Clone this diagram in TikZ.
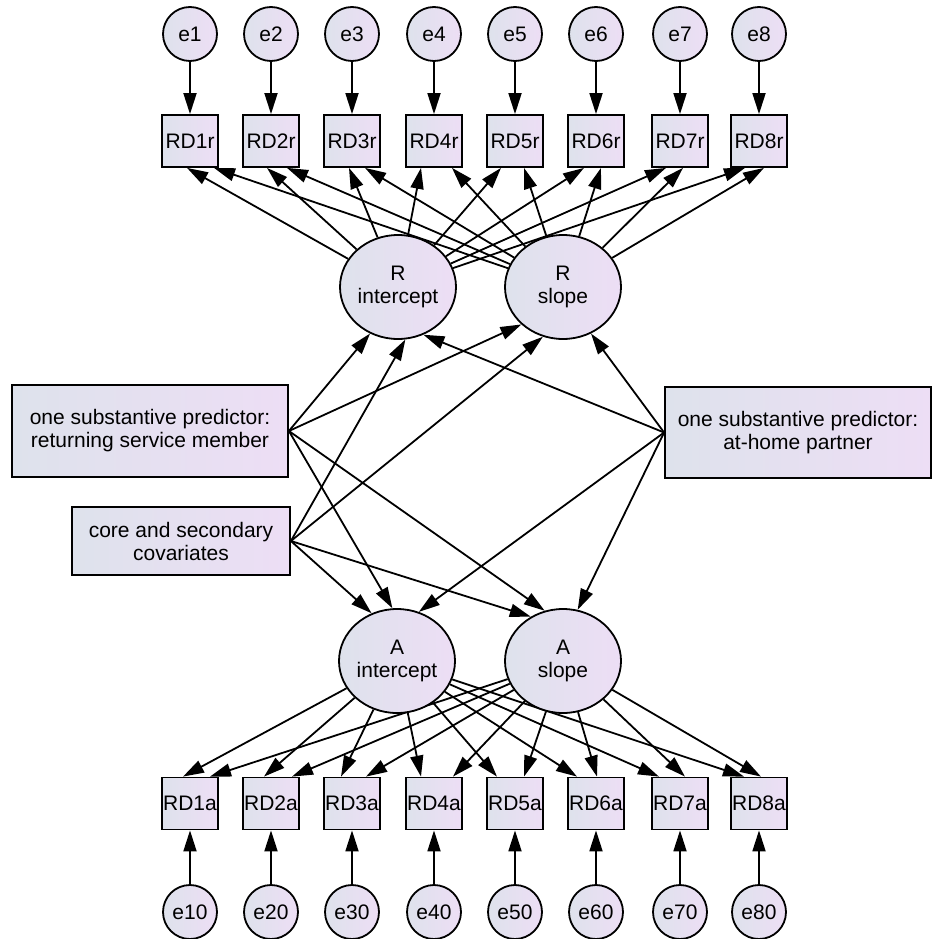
\documentclass[tikz,border=0pt]{standalone}
\usepackage{fontspec}
\setmainfont{Liberation Sans}
\usetikzlibrary{arrows.meta,calc,shapes.geometric}

\definecolor{shadeL}{RGB}{222,226,236}
\definecolor{shadeR}{RGB}{237,222,245}

\pgfdeclarelayer{bg}
\pgfsetlayers{bg,main}

\tikzset{
  base/.style={draw, line width=1.8pt, left color=shadeL, right color=shadeR,
    inner sep=0pt, align=center, font=\fontsize{21}{23}\selectfont},
  obs/.style={base, rectangle, minimum width=56pt, minimum height=52pt},
  errc/.style={base, circle, minimum size=54pt},
  lat/.style={base, ellipse, minimum width=116pt, minimum height=104pt},
  pred/.style={base, rectangle},
  arr/.style={line width=1.8pt, -{Triangle[length=21pt,width=13pt]}}
}

\begin{document}
\begin{tikzpicture}[x=1pt,y=-1pt]
\useasboundingbox (0,0) rectangle (933,939);

% indicators and their error terms
\foreach \i/\x in {1/190,2/271,3/352,4/434,5/515,6/596,7/680,8/759}{
  \node[errc] (er\i) at (\x,34) {e\i};
  \node[obs] (RDr\i) at (\x,141) {RD\i r};
  \node[obs] (RDa\i) at (\x,803.5) {RD\i a};
  \node[errc] (ea\i) at (\x,912) {e\i0};
}

% growth factors
\node[lat] (Rint) at (398,287) {R\\intercept};
\node[lat] (Rslo) at (563,287) {R\\slope};
\node[lat] (Aint) at (397,661) {A\\intercept};
\node[lat] (Aslo) at (563,661) {A\\slope};

% predictors
\node[pred, minimum width=276pt, minimum height=92pt] (ret) at (150,431)
  {one substantive predictor:\\returning service member};
\node[pred, minimum width=218pt, minimum height=68pt] (cov) at (181,541)
  {core and secondary\\covariates};
\node[pred, minimum width=266pt, minimum height=91pt] (home) at (798,432.5)
  {one substantive predictor:\\at-home partner};

\begin{pgfonlayer}{bg}
  \fill[white] (0,0) rectangle (933,939);
  \foreach \i/\ti/\ts/\bi/\bs in {1/-3/24/-7/20, 2/-4/16/-7/21, 3/-3/13/-11/14,
      4/-13/18/-13/19, 5/-14/9/-18/9, 6/-12/5/-19/1, 7/-14/3/-21/5, 8/-14/5/-15/2}{
    \draw[arr] (er\i) -- (RDr\i);
    \draw[arr] (ea\i) -- (RDa\i);
    \draw[arr] (Rint) -- ($(RDr\i.south)+(\ti,0)$);
    \draw[arr] (Rslo) -- ($(RDr\i.south)+(\ts,0)$);
    \draw[arr] (Aint) -- ($(RDa\i.north)+(\bi,0)$);
    \draw[arr] (Aslo) -- ($(RDa\i.north)+(\bs,0)$);
  }
  \draw[arr] (ret.east) -- (Rint.239);
  \draw[arr] (ret.east) -- (Rslo.222);
  \draw[arr] (ret.east) -- (Aint.95);
  \draw[arr] (ret.east) -- (Aslo.110);
  \draw[arr] (cov.east) -- (Rint.278);
  \draw[arr] (cov.east) -- (Rslo.248);
  \draw[arr] (cov.east) -- (Aint.118);
  \draw[arr] (cov.east) -- (Aslo.126);
  \draw[arr] (home.west) -- (Rint.298);
  \draw[arr] (home.west) -- (Rslo.301);
  \draw[arr] (home.west) -- (Aint.66);
  \draw[arr] (home.west) -- (Aslo.74);
\end{pgfonlayer}
\end{tikzpicture}
\end{document}
